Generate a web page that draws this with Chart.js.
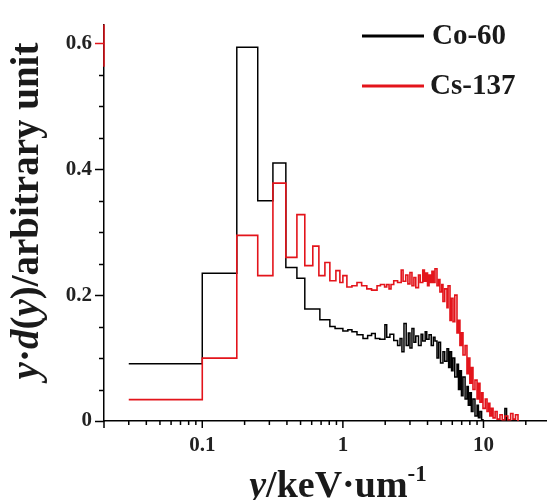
<!DOCTYPE html>
<html>
<head>
<meta charset="utf-8">
<script src="https://cdn.jsdelivr.net/npm/chart.js@4/dist/chart.umd.min.js"></script>
<style>html,body{margin:0;padding:0;background:#fff;}canvas{display:block;}</style>
</head>
<body>
<canvas id="c" width="547" height="500"></canvas>
<script>
// ---- data: bin left edges (keV/um) and y·d(y) values ----
const coX = [0.03,0.1,0.176,0.248,0.318,0.393,0.471,0.536,0.686,0.808,0.88,1.0,1.085,1.16,1.26,1.39,1.5,1.6,1.7,1.83,1.99,2.05,2.16,2.3,2.45,2.55,2.63,2.72,2.82,2.92,3.0,3.1,3.2,3.3,3.45,3.6,3.7,3.85,3.95,4.1,4.25,4.4,4.52,4.67,4.8,4.95,5.15,5.3,5.5,5.65,5.78,5.93,6.07,6.25,6.48,6.64,6.8,6.97,7.15,7.4,7.63,7.8,8.0,8.2,8.42,8.7,9.0,9.2,9.44,9.7,9.92,14.2,14.6,17.6];
const coY = [0.091,0.235,0.594,0.35,0.41,0.244,0.227,0.178,0.161,0.15,0.147,0.143,0.145,0.142,0.137,0.131,0.136,0.139,0.131,0.13,0.153,0.133,0.138,0.128,0.12,0.131,0.11,0.155,0.12,0.14,0.116,0.147,0.125,0.135,0.12,0.138,0.127,0.142,0.13,0.137,0.12,0.133,0.127,0.1,0.125,0.092,0.11,0.095,0.115,0.085,0.11,0.08,0.1,0.07,0.09,0.05,0.08,0.04,0.07,0.035,0.055,0.025,0.045,0.015,0.035,0.008,0.025,0.005,0.015,0.002,0,0.02,0,0];
const csX = [0.03,0.1,0.176,0.248,0.318,0.393,0.471,0.536,0.611,0.675,0.745,0.808,0.892,0.952,1.0,1.068,1.16,1.26,1.36,1.48,1.6,1.75,1.85,1.98,2.05,2.13,2.2,2.3,2.45,2.6,2.68,2.8,2.9,3.0,3.1,3.2,3.3,3.45,3.55,3.7,3.8,3.9,4.0,4.1,4.2,4.3,4.4,4.52,4.67,4.8,4.9,5.05,5.15,5.3,5.5,5.6,5.78,5.9,6.07,6.25,6.48,6.65,6.8,6.97,7.15,7.4,7.63,7.8,8.0,8.2,8.42,8.7,9.0,9.2,9.44,9.7,9.92,10.3,10.6,10.9,11.1,11.4,11.7,12.1,12.5,13.1,13.6,14.2,14.9,15.6,16.2,16.9,17.6];
const csY = [0.034,0.1,0.295,0.231,0.378,0.26,0.328,0.247,0.278,0.231,0.252,0.223,0.239,0.22,0.231,0.213,0.215,0.22,0.215,0.21,0.208,0.215,0.217,0.213,0.217,0.21,0.217,0.223,0.22,0.24,0.222,0.232,0.218,0.236,0.215,0.228,0.212,0.232,0.22,0.24,0.222,0.235,0.215,0.232,0.22,0.238,0.22,0.242,0.215,0.225,0.205,0.217,0.19,0.21,0.18,0.215,0.16,0.195,0.158,0.2,0.14,0.16,0.12,0.14,0.105,0.12,0.075,0.1,0.06,0.085,0.05,0.065,0.035,0.06,0.03,0.045,0.02,0.035,0.015,0.028,0.008,0.02,0.005,0.015,0.003,0.01,0.002,0.008,0.002,0.012,0.003,0.01,0];
const seriesNames = ['Co-60','Cs-137'];
const xTickVals = [0.02,0.03,0.04,0.05,0.06,0.07,0.08,0.09,0.1,0.2,0.3,0.4,0.5,0.6,0.7,0.8,0.9,1,2,3,4,5,6,7,8,9,10,20];
const xLabelVals = [0.1,1,10];
const yTickVals = [0,0.05,0.1,0.15,0.2,0.25,0.3,0.35,0.4,0.45,0.5,0.55,0.6];
const yLabelVals = [0,0.2,0.4,0.6];

const RED = '#e3141b';
const FONT = '"Liberation Serif", "Times New Roman", serif';

const decorPlugin = {
  id: 'decor',
  afterDraw(chart) {
    const ctx = chart.ctx, xs = chart.scales.x, ys = chart.scales.y;
    const ca = chart.chartArea;
    ctx.save();
    ctx.lineWidth = 1.5;
    // y ticks
    yTickVals.forEach(v => {
      const p = Math.round(ys.getPixelForValue(v)) + 0.5;
      const major = yLabelVals.includes(v);
      ctx.strokeStyle = (v === 0.6) ? RED : '#000';
      ctx.beginPath(); ctx.moveTo(ca.left - (major ? 9 : 5), p); ctx.lineTo(ca.left, p); ctx.stroke();
    });
    // x ticks
    ctx.strokeStyle = '#000';
    xTickVals.forEach(v => {
      const p = xs.getPixelForValue(v);
      const major = xLabelVals.includes(v) || v === 0.02;
      ctx.beginPath(); ctx.moveTo(p, ca.bottom); ctx.lineTo(p, ca.bottom + (major ? 7 : 4)); ctx.stroke();
    });
    // red top part of y axis
    ctx.strokeStyle = RED;
    ctx.beginPath(); ctx.moveTo(ca.left, ca.top); ctx.lineTo(ca.left, ys.getPixelForValue(0.563)); ctx.stroke();

    // legend
    const legend = [{name: seriesNames[0], color: '#000', y: 36, tx: 432}, {name: seriesNames[1], color: RED, y: 86, tx: 430}];
    legend.forEach(l => {
      ctx.strokeStyle = l.color; ctx.lineWidth = 3;
      ctx.beginPath(); ctx.moveTo(362, l.y); ctx.lineTo(424, l.y); ctx.stroke();
      ctx.fillStyle = '#1a1a1a';
      ctx.font = 'bold 29px ' + FONT;
      ctx.textBaseline = 'middle'; ctx.textAlign = 'left';
      ctx.fillText(l.name, l.tx, l.y + 1);
    });

    // axis titles (mixed italic / superscript)
    function drawRich(segs, size, cx, baseY) {
      const fontOf = s => (s.it ? 'italic ' : '') + 'bold ' + Math.round(size * (s.sup ? 0.6 : 1)) + 'px ' + FONT;
      let total = 0;
      segs.forEach(s => { ctx.font = fontOf(s); s.w = ctx.measureText(s.t).width; total += s.w; });
      let x = cx - total / 2;
      ctx.textAlign = 'left'; ctx.textBaseline = 'alphabetic'; ctx.fillStyle = '#1a1a1a';
      segs.forEach(s => { ctx.font = fontOf(s); ctx.fillText(s.t, x, baseY - (s.sup ? size * 0.42 : 0)); x += s.w; });
    }
    drawRich([{t:'y', it:true}, {t:'/keV·um'}, {t:'-1', sup:true}], 38, 338, 497);
    ctx.save();
    ctx.translate(38, 211);
    ctx.rotate(-Math.PI / 2);
    drawRich([{t:'y', it:true}, {t:'·'}, {t:'d', it:true}, {t:'('}, {t:'y', it:true}, {t:')/arbitrary unit'}], 39, 0, 0);
    ctx.restore();
    ctx.restore();
  }
};

const toPts = (xs, ys) => xs.map((x, i) => ({x: x, y: ys[i]}));

new Chart(document.getElementById('c'), {
  type: 'line',
  data: {
    datasets: [
      {label: seriesNames[0], data: toPts(coX, coY), borderColor: '#000', borderWidth: 1.5, stepped: true, pointRadius: 0, fill: false, order: 1},
      {label: seriesNames[1], data: toPts(csX, csY), borderColor: RED, borderWidth: 1.6, stepped: true, pointRadius: 0, fill: false, order: 0}
    ]
  },
  options: {
    responsive: false,
    animation: false,
    events: [],
    devicePixelRatio: 1,
    layout: {padding: {top: 17, left: 0, right: 0, bottom: 0}},
    plugins: {legend: {display: false}, tooltip: {enabled: false}},
    scales: {
      x: {
        type: 'logarithmic', min: 0.02, max: 28.3,
        afterBuildTicks: s => { s.ticks = xTickVals.map(v => ({value: v})); },
        afterFit: s => { s.height = 79; },
        grid: {display: true, drawOnChartArea: false, drawTicks: false},
        border: {display: true, color: '#000', width: 1.5},
        ticks: {autoSkip: false, maxRotation: 0, padding: 12, color: '#222',
          font: {family: FONT, size: 21, weight: 'bold'},
          callback: v => xLabelVals.includes(v) ? String(v) : ''}
      },
      y: {
        min: 0, max: 0.63,
        afterBuildTicks: s => { s.ticks = yTickVals.map(v => ({value: v})); },
        afterFit: s => { s.width = 104; },
        grid: {display: true, drawOnChartArea: false, drawTicks: false},
        border: {display: true, color: '#000', width: 1.5},
        ticks: {autoSkip: false, padding: 12, color: '#222',
          font: {family: FONT, size: 21, weight: 'bold'},
          callback: v => yLabelVals.includes(v) ? String(v) : ''}
      }
    }
  },
  plugins: [decorPlugin]
});
</script>
</body>
</html>
